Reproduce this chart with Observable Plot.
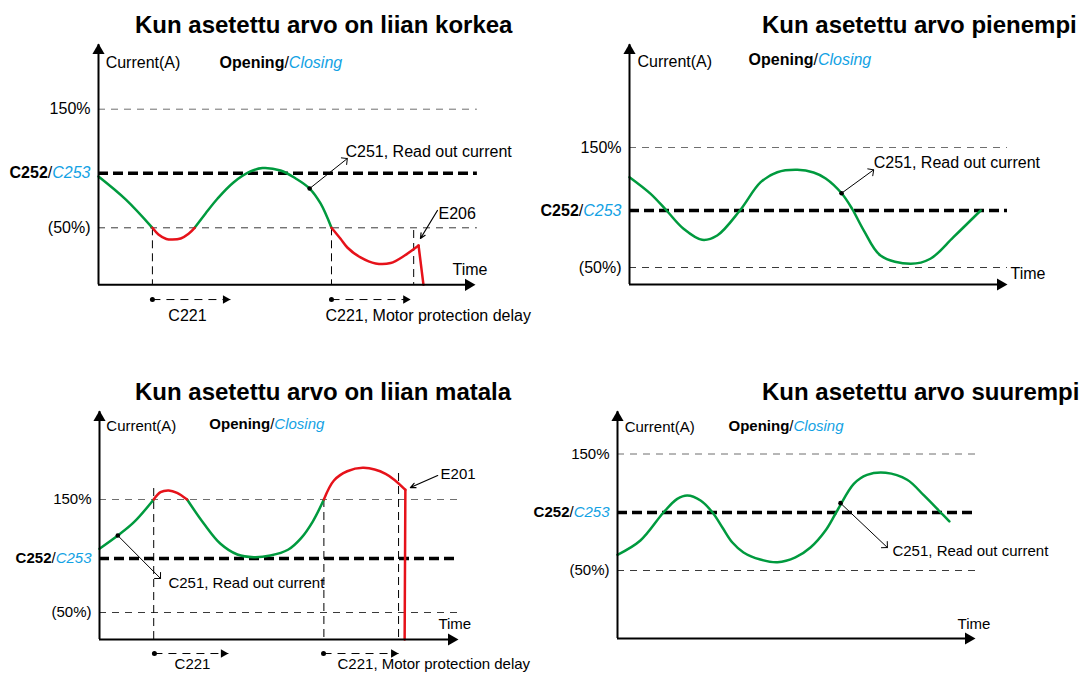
<!DOCTYPE html>
<html><head><meta charset="utf-8">
<script src="https://cdn.jsdelivr.net/npm/d3@7"></script>
<script src="https://cdn.jsdelivr.net/npm/@observablehq/plot@0.6"></script>
<style>
body{margin:0;background:#fff;}
#wrap{position:relative;width:1081px;height:674px;overflow:hidden;font-family:"Liberation Sans",Arial,Helvetica,sans-serif;}
#wrap svg{position:absolute;left:0;top:0;}
.title{position:absolute;font-weight:bold;font-size:24px;line-height:24px;white-space:nowrap;color:#000;}
</style></head><body><div id="wrap"></div>
<script>
const FONT = "'Liberation Sans', Arial, Helvetica, sans-serif";
const GREEN = "#009a3e", RED = "#e6121a", BLUE = "#13a2e4";

// ---------- texts ----------
const titles = ["Kun asetettu arvo on liian korkea", "Kun asetettu arvo pienempi",
                "Kun asetettu arvo on liian matala", "Kun asetettu arvo suurempi"];
const levelLabels = ["150%", "C252/C253", "(50%)"];
const axisTexts = ["Current(A)", "Opening/Closing", "Time"];
const readOutText = "C251, Read out current";
const delayTexts = ["C221", "C221, Motor protection delay"];
const errorTexts = ["E206", "E201"];

// ---------- Panel 1: liian korkea (time 0-100, current %) ----------
const p1Levels = [150, 96, 50];
const p1Green = [
  [[0, 93.3], [7.2, 74], [14.3, 50]],
  [[25.5, 50], [28.4, 62.1], [31.6, 74.7], [35.8, 88.2], [40.3, 97.5], [43.5, 100.4], [48.3, 98.3], [52.3, 91.6], [56, 83.1], [58.9, 70.5], [61.8, 50]]
];
const p1Red = [
  [[14.3, 50], [15.9, 44.4], [18, 40.6], [19.6, 40.1], [21.8, 41], [23.9, 45], [25.5, 50]],
  [[61.8, 50], [64.2, 40.7], [66, 33.4], [69.5, 25], [73.5, 19.9], [77.5, 20.3], [81.2, 26.6], [84.9, 35]]
];
const p1Drop = [[84.9, 35], [86.2, 1.9]];
const p1Markers = [[14.3, 50], [61.8, 50], [83.6, 47.7]];
const p1Delays = [[14.3, 35], [61.8, 82.8]];

// ---------- Panel 2: pienempi ----------
const p2Levels = [150, 97.5, 50];
const p2Green = [
  [[0, 125.3], [5.6, 111.4], [9.8, 97.5], [14.3, 82.3], [19.2, 73.1], [23.2, 76.7], [29.2, 97.5], [34.7, 121.1], [39.1, 129.4], [44.4, 131.4], [48.7, 129.2], [51.9, 124.2], [56.1, 111.9], [58.9, 98.9], [62, 80.8], [66.4, 60], [74.3, 53.1], [79.6, 57.3], [85.7, 75.3], [92.9, 97.5]]
];

// ---------- Panel 3: liian matala ----------
const p3Levels = [150, 97.8, 50];
const p3Green = [
  [[0, 106.4], [5.1, 118.1], [9.6, 129.9], [15.1, 150]],
  [[24.4, 150], [29.1, 128.5], [33.7, 110.8], [38.4, 101.3], [43, 98.9], [47.6, 100.4], [52.5, 105.5], [56.1, 115.6], [59.4, 130.5], [62.5, 150]]
];
const p3Red = [
  [[15.1, 150], [17, 156.5], [19.3, 158], [21.6, 155.9], [24.4, 150]],
  [[62.5, 150], [65.3, 166.8], [69, 175], [73.6, 178], [79.7, 172.7], [85.2, 158.6]]
];
const p3Drop = [[85.2, 158.6], [85, 26.1]];
const p3Markers = [[15.1, 159.7], [62.5, 150], [83.3, 173]];
const p3Delays = [[15.3, 35.9], [62.4, 83.3]];

// ---------- Panel 4: suurempi ----------
const p4Levels = [150, 99.8, 50];
const p4Green = [
  [[0, 63.5], [6.4, 75.8], [12.9, 100], [16.7, 111.5], [19.5, 114.4], [23.2, 110.1], [26.5, 100], [29.3, 86.9], [32.1, 74], [35.2, 65.5], [39.9, 59.4], [44.7, 57.1], [49.7, 61.2], [53.9, 69.7], [58.1, 84.3], [61.4, 101.5], [66, 124.4], [69.7, 132.1], [74.9, 133.9], [80.9, 127.9], [85.6, 114.4], [90.2, 100], [92.7, 92.1]]
];

// ---------- panel assembly (annotation anchors in data units) ----------
const panels = [
  {levels: p1Levels, green: p1Green, red: p1Red, drop: p1Drop, markers: p1Markers, delays: p1Delays,
   base: 1.9, top: 205.4, gridEnd: 100.5, delayY: -10.5, fs: 16,
   delayLabels: [{t: 23.6, v: -24}, {t: 60.2, v: -24}],
   note: {from: [56, 83.1], to: [66, 108.4], text: [65.5, 114.3]},
   error: {label: errorTexts[0], text: [90.2, 62], from: [89.9, 64.6], to: [85.4, 41]},
   time: [93.9, 14.8], current: [1.9, 189.4], opening: [32.1, 189.4],
   title: titles[0], titlePos: [135, 13],
   xr: [98, 475], yr: [227.3, 108.7]},
  {levels: p2Levels, green: p2Green, red: [], drop: null, markers: [], delays: [],
   base: 35.8, top: 236.7, gridEnd: 100, fs: 16,
   note: {from: [56.1, 111.9], to: [64.6, 131.4], text: [64.6, 137.5]},
   time: [100.8, 45], current: [2.1, 221.7], opening: [31.5, 223.3],
   title: titles[1], titlePos: [762, 13],
   xr: [629, 1007], yr: [267, 147]},
  {levels: p3Levels, green: p3Green, red: p3Red, drop: p3Drop, markers: p3Markers, delays: p3Delays,
   base: 26.1, top: 228.8, gridEnd: 100, delayY: 13.7, fs: 15,
   delayLabels: [{t: 25.9, v: 4.2}, {t: 66.3, v: 4.2}],
   note: {from: [5.1, 118.1], to: [17, 80.1], text: [19.2, 75.7]},
   error: {label: errorTexts[1], text: [95, 172.1], from: [94.2, 171.2], to: [86.6, 160.6]},
   time: [94.4, 39.4], current: [1.9, 214.6], opening: [30.6, 216.4],
   title: titles[2], titlePos: [135, 380],
   xr: [99, 458], yr: [612, 499]},
  {levels: p4Levels, green: p4Green, red: [], drop: null, markers: [], delays: [],
   base: -8.4, top: 187.3, gridEnd: 100.5, fs: 15,
   note: {from: [62.3, 107.8], to: [75.4, 69.7], text: [76.8, 66.3]},
   time: [95, 3.6], current: [2, 172.7], opening: [31, 173.6],
   title: titles[3], titlePos: [762, 380],
   xr: [617, 975], yr: [570, 453.5]}
];

const X = p => p[0], Y = p => p[1];

function richify(svg) {
  d3.select(svg).selectAll("text").each(function () {
    const m = /^(C252|Opening)\/(C253|Closing)$/.exec(this.textContent);
    if (!m) return;
    const s = d3.select(this);
    s.text(null);
    s.append("tspan").attr("font-weight", "bold").text(m[1]);
    s.append("tspan").text("/");
    s.append("tspan").attr("font-style", "italic").attr("fill", BLUE).text(m[2]);
  });
}

function makePanel(d) {
  const lab = new Map(d.levels.map((v, i) => [v, levelLabels[i]]));
  const fs = d.fs;
  const marks = [
    Plot.ruleY([d.levels[0]], {x1: 0, x2: d.gridEnd, stroke: "#6f6f6f", strokeWidth: 1, strokeDasharray: "7,6"}),
    Plot.ruleY([d.levels[2]], {x1: 0, x2: d.gridEnd, stroke: "#3a3a3a", strokeWidth: 1, strokeDasharray: "7,6"}),
    Plot.ruleY([d.levels[1]], {x1: 0, x2: d.gridEnd, stroke: "#000", strokeWidth: 3.5, strokeDasharray: "10,5"}),
    Plot.ruleX(d.markers, {x: X, y1: Y, y2: d.base, stroke: "#000", strokeWidth: 1, strokeDasharray: "8,5"}),
  ];
  for (const seg of d.green) marks.push(Plot.line(seg, {x: X, y: Y, stroke: GREEN, strokeWidth: 2.5, curve: "catmull-rom"}));
  for (const seg of d.red) marks.push(Plot.line(seg, {x: X, y: Y, stroke: RED, strokeWidth: 2.5, curve: "catmull-rom"}));
  if (d.drop) marks.push(Plot.line(d.drop, {x: X, y: Y, stroke: RED, strokeWidth: 2.5}));
  // axes
  marks.push(
    Plot.ruleX([0], {y1: d.base, y2: d.top - 1, stroke: "#000", strokeWidth: 2}),
    Plot.ruleY([d.base], {x1: 0, x2: 99, stroke: "#000", strokeWidth: 2}),
    Plot.dot([[0, d.top]], {x: X, y: Y, symbol: "triangle", r: 4.5, fill: "#000", dy: 7}),
    Plot.dot([[100, d.base]], {x: X, y: Y, symbol: "triangle", r: 4.5, fill: "#000", rotate: 90, dx: -7})
  );
  // delay arrows
  if (d.delays.length) {
    marks.push(
      Plot.link(d.delays, {x1: X, x2: Y, y1: d.delayY, y2: d.delayY, stroke: "#000", strokeWidth: 1, strokeDasharray: "8,6"}),
      Plot.dot(d.delays, {x: X, y: d.delayY, r: 2.5, fill: "#000"}),
      Plot.dot(d.delays, {x: Y, y: d.delayY, symbol: "triangle", r: 3.2, fill: "#000", rotate: 90, dx: -5}),
      Plot.text([d.delayLabels[0]], {x: "t", y: "v", text: () => delayTexts[0], textAnchor: "middle", fontSize: fs}),
      Plot.text([d.delayLabels[1]], {x: "t", y: "v", text: () => delayTexts[1], textAnchor: "start", fontSize: fs})
    );
  }
  // read out annotation
  marks.push(
    Plot.arrow([d.note], {x1: n => n.from[0], y1: n => n.from[1], x2: n => n.to[0], y2: n => n.to[1], stroke: "#000", strokeWidth: 1, headAngle: 90, headLength: 9}),
    Plot.dot([d.note.from], {x: X, y: Y, r: 2.3, fill: "#000"}),
    Plot.text([d.note.text], {x: X, y: Y, text: () => readOutText, textAnchor: "start", fontSize: fs})
  );
  if (d.error) {
    marks.push(
      Plot.arrow([d.error], {x1: n => n.from[0], y1: n => n.from[1], x2: n => n.to[0], y2: n => n.to[1], stroke: "#000", strokeWidth: 1.2, headAngle: 50, headLength: 7}),
      Plot.text([d.error.text], {x: X, y: Y, text: () => d.error.label, textAnchor: "start", fontSize: fs})
    );
  }
  marks.push(
    Plot.text([d.current], {x: X, y: Y, text: () => axisTexts[0], textAnchor: "start", fontSize: fs}),
    Plot.text([d.opening], {x: X, y: Y, text: () => axisTexts[1], textAnchor: "start", fontSize: fs}),
    Plot.text([d.time], {x: X, y: Y, text: () => axisTexts[2], textAnchor: "start", fontSize: fs})
  );
  const svg = Plot.plot({
    width: 1081, height: 674,
    marginLeft: d.xr[0], marginTop: 0, marginRight: 0, marginBottom: 0,
    style: {background: "transparent", fontFamily: FONT, fontSize: fs + "px", overflow: "visible", color: "#000"},
    x: {domain: [0, 100], range: d.xr, axis: null},
    y: {domain: [50, 150], range: d.yr, ticks: d.levels, tickFormat: v => lab.get(v), tickSize: 0, tickPadding: 8, label: null},
    marks
  });
  richify(svg);
  return svg;
}

const wrap = document.getElementById("wrap");
for (const p of panels) {
  wrap.appendChild(makePanel(p));
  const t = document.createElement("div");
  t.className = "title";
  t.textContent = p.title;
  t.style.left = p.titlePos[0] + "px";
  t.style.top = p.titlePos[1] + "px";
  wrap.appendChild(t);
}
</script></body></html>
